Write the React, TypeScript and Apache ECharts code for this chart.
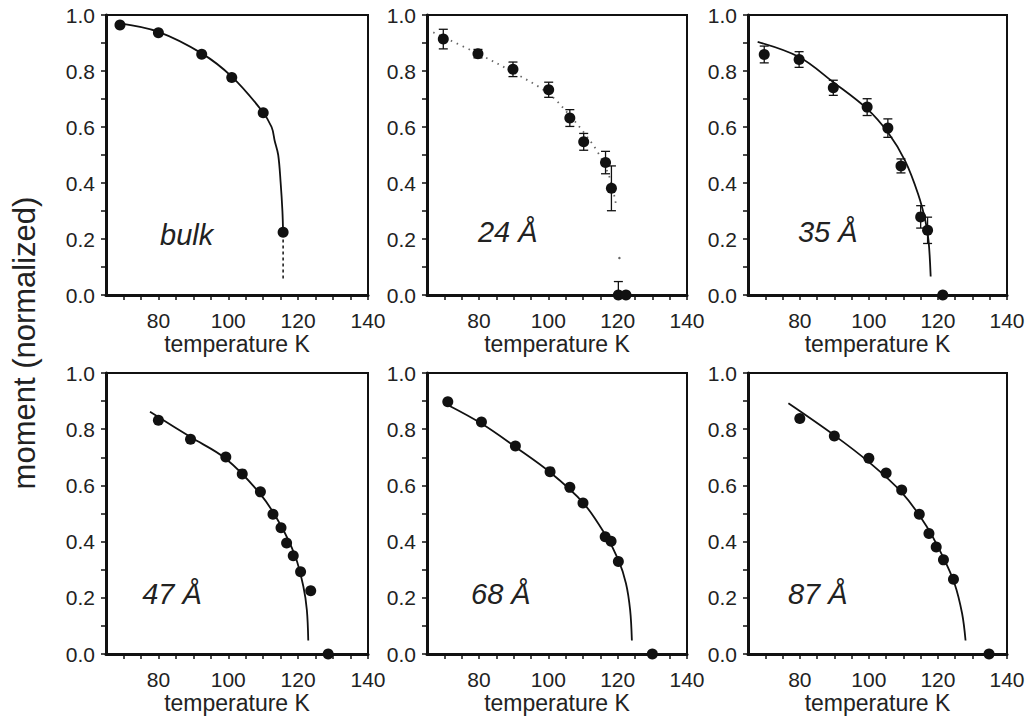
import React, { useEffect, useRef } from "react";
import * as echarts from "echarts";

const FONT = '"Liberation Sans", Arial, Helvetica, sans-serif';
const INK = "#111111";
const TEXT = "#222222";

// axis ranges / ticks
const xRange = [65, 140];
const xLabelValues = [80, 100, 120, 140];
const yLabelValues = [0, 0.2, 0.4, 0.6, 0.8, 1.0];

// panel names and their positions (data coords)
const panelNames = ["bulk", "24 Å", "35 Å", "47 Å", "68 Å", "87 Å"];
const nameT = [88.1, 88.3, 88.1, 83.9, 86.3, 85.2];
const nameM = [0.215, 0.225, 0.225, 0.215, 0.215, 0.215];

// bulk
const bulkT = [69.0, 80.0, 92.4, 101.0, 110.0, 115.7];
const bulkM = [0.964, 0.937, 0.86, 0.777, 0.651, 0.224];
const bulkFitT = [69.0, 80.0, 92.4, 101.0, 109.5, 112.4, 113.3, 114.3, 115.0, 115.5, 115.7];
const bulkFitM = [0.97, 0.94, 0.863, 0.78, 0.66, 0.6, 0.55, 0.5, 0.4, 0.3, 0.22];
const bulkTailT = [115.7, 115.7];
const bulkTailM = [0.22, 0.05];

// 24 Å
const t24 = [69.7, 79.7, 89.8, 100.1, 106.2, 110.2, 116.5, 118.2, 120.2, 122.4];
const m24 = [0.914, 0.862, 0.806, 0.733, 0.632, 0.547, 0.473, 0.381, 0.0, 0.0];
const e24 = [0.035, 0.015, 0.026, 0.027, 0.03, 0.03, 0.04, 0.08, 0.048, 0];
const fit24T = [66.8, 79.7, 89.8, 100.1, 106.2, 110.2, 114.3, 117.7, 119.7];
const fit24M = [0.938, 0.862, 0.796, 0.719, 0.641, 0.581, 0.509, 0.419, 0.311];
const fit24DotT = [120.5];
const fit24DotM = [0.132];

// 35 Å
const t35 = [69.7, 79.8, 89.7, 99.5, 105.5, 109.3, 115.0, 117.0, 121.4];
const m35 = [0.859, 0.841, 0.74, 0.671, 0.596, 0.461, 0.279, 0.231, 0.0];
const e35 = [0.03, 0.028, 0.027, 0.03, 0.033, 0.025, 0.04, 0.047, 0];
const fit35T = [67.8, 79.8, 89.7, 99.5, 105.5, 110.5, 114.3, 116.4, 117.3, 117.9];
const fit35M = [0.904, 0.85, 0.76, 0.665, 0.581, 0.479, 0.359, 0.263, 0.192, 0.066];

// 47 Å
const t47 = [80, 89.2, 99.3, 104.0, 109.2, 112.8, 115.1, 116.7, 118.6, 120.7, 123.6, 128.6];
const m47 = [0.832, 0.764, 0.701, 0.641, 0.577, 0.497, 0.449, 0.395, 0.35, 0.293, 0.225, 0.0];
const fit47T = [77.6, 89.2, 99.3, 109.2, 114.9, 119.2, 121.5, 122.5, 122.9];
const fit47M = [0.862, 0.772, 0.695, 0.569, 0.461, 0.347, 0.24, 0.156, 0.048];

// 68 Å
const t68 = [71.0, 80.7, 90.5, 100.5, 106.2, 110.0, 116.4, 118.1, 120.2, 130.0];
const m68 = [0.898, 0.826, 0.74, 0.649, 0.593, 0.537, 0.417, 0.401, 0.329, 0.0];
const fit68T = [71.0, 80.7, 90.5, 100.5, 110.0, 116.4, 120.2, 122.4, 123.6, 124.1];
const fit68M = [0.886, 0.82, 0.737, 0.647, 0.539, 0.425, 0.335, 0.251, 0.156, 0.048];

// 87 Å
const t87 = [80, 90, 100, 105, 109.5, 114.6, 117.4, 119.5, 121.6, 124.5, 134.8];
const m87 = [0.838, 0.776, 0.697, 0.644, 0.584, 0.497, 0.429, 0.381, 0.335, 0.266, 0.0];
const fit87T = [76.7, 90, 100, 109.5, 116.7, 121.4, 124.8, 127, 128];
const fit87M = [0.892, 0.778, 0.683, 0.575, 0.455, 0.347, 0.251, 0.144, 0.048];

const zip = (a: number[], b: number[]) => a.map((v, i) => [v, b[i]]);
const zip3 = (a: number[], b: number[], c: number[]) => a.map((v, i) => [v, b[i], c[i]]);

// layout of the six frames (pixels)
const gridBoxes = [
  { left: 106, top: 15, width: 262, height: 280 },
  { left: 427, top: 15, width: 260, height: 280 },
  { left: 748, top: 15, width: 259, height: 280 },
  { left: 106, top: 373, width: 262, height: 281 },
  { left: 427, top: 373, width: 260, height: 281 },
  { left: 748, top: 373, width: 259, height: 281 },
];

const panels = [
  { pts: zip(bulkT, bulkM), fit: zip(bulkFitT, bulkFitM), tail: zip(bulkTailT, bulkTailM), dot: null as any, fitType: "solid", err: null as any },
  { pts: zip(t24, m24), fit: zip(fit24T, fit24M), tail: null as any, dot: zip(fit24DotT, fit24DotM), fitType: "dotted", err: zip3(t24, m24, e24) },
  { pts: zip(t35, m35), fit: zip(fit35T, fit35M), tail: null as any, dot: null as any, fitType: "solid", err: zip3(t35, m35, e35) },
  { pts: zip(t47, m47), fit: zip(fit47T, fit47M), tail: null as any, dot: null as any, fitType: "solid", err: null as any },
  { pts: zip(t68, m68), fit: zip(fit68T, fit68M), tail: null as any, dot: null as any, fitType: "solid", err: null as any },
  { pts: zip(t87, m87), fit: zip(fit87T, fit87M), tail: null as any, dot: null as any, fitType: "solid", err: null as any },
];

function buildOption() {
  const grid: any[] = [];
  const xAxis: any[] = [];
  const yAxis: any[] = [];
  const series: any[] = [];

  panels.forEach((p, i) => {
    const b = gridBoxes[i];
    grid.push({
      left: b.left, top: b.top, width: b.width, height: b.height,
      show: true, borderColor: INK, borderWidth: 2, backgroundColor: "transparent",
    });
    xAxis.push({
      type: "value", gridIndex: i, min: xRange[0], max: xRange[1], interval: 5,
      name: "temperature K", nameLocation: "middle", nameGap: 37,
      nameTextStyle: { fontFamily: FONT, fontSize: 23, color: TEXT },
      axisLine: { show: true, onZero: false, lineStyle: { color: INK, width: 3 } },
      axisTick: { show: true, inside: false, length: 5, lineStyle: { color: INK, width: 1.5 } },
      splitLine: { show: false },
      axisLabel: {
        margin: 15, fontFamily: FONT, fontSize: 21, color: TEXT, showMinLabel: false,
        formatter: (v: number) => (xLabelValues.indexOf(Math.round(v)) >= 0 ? String(Math.round(v)) : ""),
      },
    });
    yAxis.push({
      type: "value", gridIndex: i, min: 0, max: 1, interval: 0.1,
      axisLine: { show: true, onZero: false, lineStyle: { color: INK, width: 3 } },
      axisTick: { show: true, inside: false, length: 5, lineStyle: { color: INK, width: 1.5 } },
      splitLine: { show: false },
      axisLabel: {
        margin: 11, fontFamily: FONT, fontSize: 21, color: TEXT,
        formatter: (v: number) => {
          const hit = yLabelValues.find((y) => Math.abs(y - v) < 1e-6);
          return hit === undefined ? "" : hit.toFixed(1);
        },
      },
    });

    // fit curve
    series.push({
      type: "line", xAxisIndex: i, yAxisIndex: i, data: p.fit, smooth: 0.35,
      showSymbol: false, symbol: "none", clip: true, z: 2,
      lineStyle: p.fitType === "dotted"
        ? { color: "#666", width: 1.8, type: [1.5, 5], opacity: 1 }
        : { color: INK, width: 1.8, opacity: 1 },
    });
    if (p.tail) {
      series.push({
        type: "line", xAxisIndex: i, yAxisIndex: i, data: p.tail,
        showSymbol: false, symbol: "none", z: 2,
        lineStyle: { color: INK, width: 1.5, type: [3, 3] },
      });
    }
    if (p.dot) {
      series.push({
        type: "scatter", xAxisIndex: i, yAxisIndex: i, data: p.dot, z: 2,
        symbol: "circle", symbolSize: 2.5, itemStyle: { color: "#666", opacity: 1 },
      });
    }
    if (p.err) {
      series.push({
        type: "custom", xAxisIndex: i, yAxisIndex: i, data: p.err, clip: true, z: 3,
        encode: { x: 0, y: 1 },
        renderItem: (params: any, api: any) => {
          const x = api.value(0), y = api.value(1), e = api.value(2);
          if (!e) return null;
          const top = api.coord([x, y + e]);
          const bot = api.coord([x, y - e]);
          const w = 4.5;
          const st = { stroke: INK, lineWidth: 1.3 };
          return {
            type: "group",
            children: [
              { type: "line", shape: { x1: top[0], y1: top[1], x2: bot[0], y2: bot[1] }, style: st },
              { type: "line", shape: { x1: top[0] - w, y1: top[1], x2: top[0] + w, y2: top[1] }, style: st },
              { type: "line", shape: { x1: bot[0] - w, y1: bot[1], x2: bot[0] + w, y2: bot[1] }, style: st },
            ],
          };
        },
      });
    }
    // data points
    series.push({
      type: "scatter", xAxisIndex: i, yAxisIndex: i, data: p.pts, clip: false, z: 4,
      symbol: "circle", symbolSize: 11, itemStyle: { color: INK, opacity: 1 },
    });
    // panel label
    series.push({
      type: "scatter", xAxisIndex: i, yAxisIndex: i, z: 5, silent: true,
      data: [[nameT[i], nameM[i]]], symbolSize: 1, itemStyle: { color: "rgba(0,0,0,0)", opacity: 1 },
      label: {
        show: true, position: "inside", formatter: panelNames[i],
        fontFamily: FONT, fontSize: 29, fontStyle: "italic", color: TEXT, opacity: 1,
      },
    });
  });

  return {
    animation: false,
    backgroundColor: "#ffffff",
    grid, xAxis, yAxis, series,
    graphic: [
      {
        type: "text", x: 24, y: 343, rotation: Math.PI / 2,
        style: {
          text: "moment (normalized)", fontFamily: FONT, fontSize: 31, fill: TEXT,
          align: "center", verticalAlign: "middle",
        },
      },
    ],
  };
}

export default function App() {
  const ref = useRef<HTMLDivElement>(null);
  useEffect(() => {
    if (!ref.current) return;
    const chart = echarts.init(ref.current, undefined, { renderer: "svg" });
    chart.setOption(buildOption() as any);
    return () => chart.dispose();
  }, []);
  return (
    <div
      ref={ref}
      style={{ position: "fixed", left: 0, top: 0, width: 1030, height: 718, background: "#fff" }}
    />
  );
}
